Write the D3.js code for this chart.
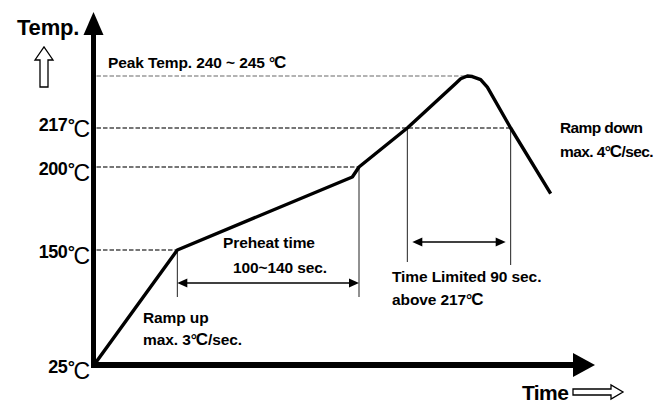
<!DOCTYPE html>
<html>
<head>
<meta charset="utf-8">
<script src="https://cdn.jsdelivr.net/npm/d3@7"></script>
<style>
  html, body { margin: 0; padding: 0; background: #fff; }
  svg { display: block; font-family: "Liberation Sans", Arial, sans-serif; }
</style>
</head>
<body>
<svg id="chart" width="657" height="403"></svg>
<script>
// Reflow soldering temperature profile (schematic)

// Profile curve: time (s, schematic) and temperature (°C)
const profileTime = [0, 50, 155, 159, 188, 217, 220, 224, 227, 232, 236, 250, 274];
const profileTemp = [25, 150, 194, 200, 217, 241, 243.5, 245, 244.7, 243, 239, 217, 184];

// Temperature axis labels
const tempTicks = [25, 150, 200, 217];
const tempTickLabels = ["25", "150", "200", "217"];

// Dashed guide lines: temperature level and time where each meets the curve
const guideTemps = [150, 200, 217, 245];
const guideEnds = [50, 159, 250, 224];

// Interval markers (times)
const preheatSpan = [50, 159];
const liquidusSpan = [188, 250];

const svg = d3.select("#chart");

// Axis scales: time is linear, the temperature axis is a schematic piecewise scale
const x = d3.scaleLinear().domain([0, 300]).range([94, 594]);
const y = d3.scaleLinear().domain([25, 150, 200, 217, 245]).range([365, 250, 167, 128, 76]);

const axisX = 93.5, axisY = y(25);

// Guide lines
guideTemps.forEach((t, i) => {
  const isPeak = t === 245;
  svg.append("line")
    .attr("x1", axisX + 3).attr("x2", x(guideEnds[i]))
    .attr("y1", y(t)).attr("y2", y(t))
    .attr("stroke", isPeak ? "#9a9a9a" : "#4a4a4a")
    .attr("stroke-width", 1.3)
    .attr("stroke-dasharray", "4.5,2");
});

// Interval marker lines
const markerLines = [
  { t: preheatSpan[0], top: 150, bottom: 297 },
  { t: preheatSpan[1], top: 200, bottom: 297 },
  { t: liquidusSpan[0], top: 217, bottom: 262 },
  { t: liquidusSpan[1], top: 217, bottom: 265 }
];
markerLines.forEach(m => {
  svg.append("line")
    .attr("x1", x(m.t)).attr("x2", x(m.t))
    .attr("y1", y(m.top)).attr("y2", m.bottom)
    .attr("stroke", "#222").attr("stroke-width", 1);
});

// Double-headed span arrows
function spanArrow(t0, t1, yy, inset) {
  const x0 = x(t0) + inset, x1 = x(t1) - inset, hl = 10, hw = 4.5;
  svg.append("line").attr("x1", x0 + 4).attr("x2", x1 - 4)
    .attr("y1", yy).attr("y2", yy).attr("stroke", "#000").attr("stroke-width", 1.3);
  svg.append("path").attr("d", `M${x0},${yy}L${x0 + hl},${yy - hw}L${x0 + hl},${yy + hw}Z`).attr("fill", "#000");
  svg.append("path").attr("d", `M${x1},${yy}L${x1 - hl},${yy - hw}L${x1 - hl},${yy + hw}Z`).attr("fill", "#000");
}
spanArrow(preheatSpan[0], preheatSpan[1], 283, 0);
spanArrow(liquidusSpan[0], liquidusSpan[1], 242, 5);

// Profile curve
const line = d3.line()
  .x((d, i) => x(profileTime[i]))
  .y(d => y(d))
  .curve(d3.curveLinear);
svg.append("path")
  .attr("d", line(profileTemp))
  .attr("fill", "none")
  .attr("stroke", "#000")
  .attr("stroke-width", 3.4)
  .attr("stroke-linejoin", "round")
  .attr("stroke-linecap", "butt");

// Axes lines with arrowheads
const yTop = 35, xEnd = 573;
svg.append("line").attr("x1", axisX).attr("x2", axisX)
  .attr("y1", axisY + 3).attr("y2", yTop).attr("stroke", "#000").attr("stroke-width", 5);
svg.append("path").attr("d", `M${axisX},12L${axisX + 10},${yTop}L${axisX - 10},${yTop}Z`).attr("fill", "#000");
svg.append("line").attr("x1", axisX - 2.5).attr("x2", xEnd)
  .attr("y1", axisY).attr("y2", axisY).attr("stroke", "#000").attr("stroke-width", 6);
svg.append("path").attr("d", `M595,${axisY}L${xEnd},${axisY - 12}L${xEnd},${axisY + 12}Z`).attr("fill", "#000");

// Temperature tick labels via a left axis (no tick marks or domain)
const yAxis = d3.axisLeft(y).tickValues(tempTicks).tickSize(0).tickFormat("");
const gy = svg.append("g").attr("transform", `translate(${axisX - 2.5},0)`).call(yAxis);
gy.select(".domain").remove();
gy.selectAll(".tick").each(function (d) {
  const i = tempTicks.indexOf(d);
  const nudge = d === 217 ? -5 : 0;
  const t = d3.select(this).select("text")
    .attr("x", -1).attr("dy", null).attr("y", 7 + nudge)
    .attr("text-anchor", "end")
    .attr("fill", "#000")
    .style("font-family", "'Liberation Sans', Arial, sans-serif");
  t.text(null);
  t.append("tspan")
    .style("font-size", "18px").style("font-weight", "bold").style("letter-spacing", "-0.5px")
    .text(tempTickLabels[i]);
  t.append("tspan").attr("dx", 0.5)
    .style("font-size", "18px").style("font-weight", "bold").style("letter-spacing", "-1.5px")
    .text("°");
  t.append("tspan").attr("dy", 6)
    .style("font-size", "23px").style("font-weight", "normal")
    .text("C");
});

// Axis titles
svg.append("text").attr("x", 17).attr("y", 35)
  .style("font-size", "22px").style("font-weight", "bold").style("letter-spacing", "-0.2px")
  .text("Temp.");
svg.append("path")
  .attr("d", "M40,87L40,60L35,60L44,47L53,60L48,60L48,87Z")
  .attr("fill", "#fff").attr("stroke", "#000").attr("stroke-width", 1.3);

svg.append("text").attr("x", 522).attr("y", 400)
  .style("font-size", "21px").style("font-weight", "bold").style("letter-spacing", "-0.6px")
  .text("Time");
svg.append("path")
  .attr("d", "M573,389L611,389L611,385L623,392L611,399L611,395L573,395Z")
  .attr("fill", "#fff").attr("stroke", "#000").attr("stroke-width", 1.3);

// Annotation text helper: lines of [text parts], "°C" drawn with a larger C
function note(xp, baselines, lines, spacing = -0.1) {
  lines.forEach((parts, k) => {
    const t = svg.append("text").attr("x", xp).attr("y", baselines[k])
      .style("font-size", "15.5px").style("font-weight", "bold").style("letter-spacing", `${spacing}px`);
    parts.forEach(p => {
      if (p === "°C") {
        t.append("tspan").text("°").style("letter-spacing", "-1px");
        t.append("tspan").text("C").style("font-size", "17px");
      } else {
        t.append("tspan").text(p);
      }
    });
  });
}

note(108, [68], [["Peak Temp. 240 ~ 245 ", "°C"]]);
note(560, [133, 157], [["Ramp down"], ["max. 4", "°C", "/sec."]], -0.6);
note(143, [323, 345], [["Ramp up"], ["max. 3", "°C", "/sec."]]);
note(223, [248], [["Preheat time"]]);
note(233, [273], [["100~140 sec."]]);
note(392, [282, 305], [["Time Limited 90 sec."], ["above 217", "°C"]]);
</script>
</body>
</html>
